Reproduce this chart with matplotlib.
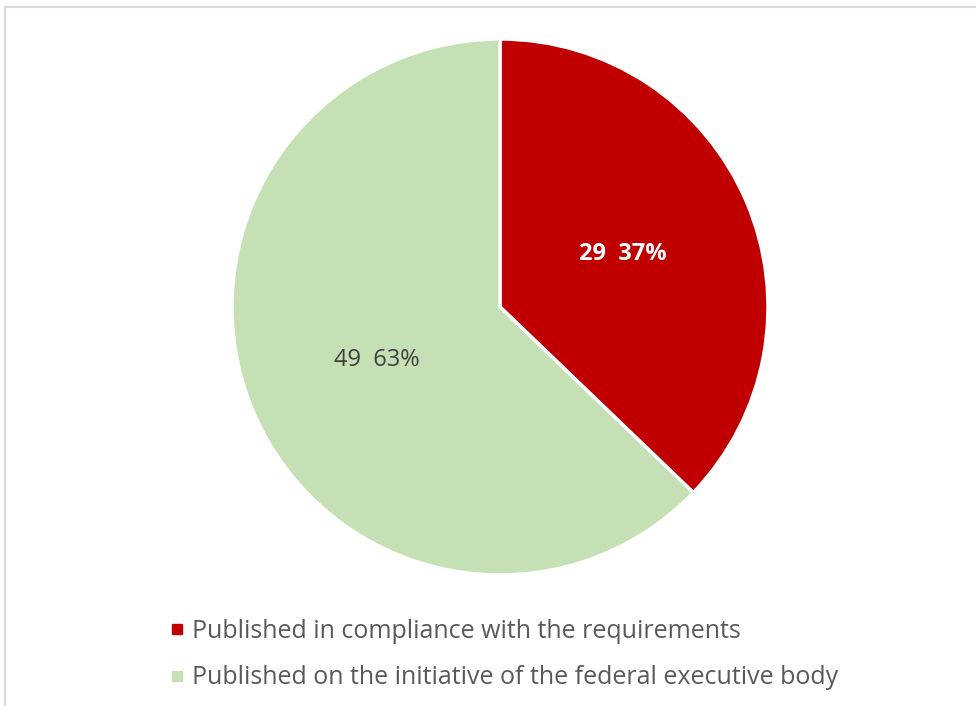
import matplotlib.pyplot as plt
from matplotlib.lines import Line2D
from matplotlib.patches import Rectangle

plt.rcParams['font.family'] = ['Open Sans', 'DejaVu Sans']

# data
categories = ["Published in compliance with the requirements",
              "Published on the initiative of the federal executive body"]
counts = [29, 49]
colors = ["#c00000", "#c5e0b4"]

fig = plt.figure(figsize=(9.76, 7.06), dpi=100)

# light gray frame (top and left edges visible)
fig.patches.append(Rectangle((5 / 976, -0.05), 1.2, 1 - 7 / 706 + 0.05,
                             transform=fig.transFigure, fill=False,
                             edgecolor="#d9d9d9", linewidth=1.6))

ax = fig.add_axes([232 / 976, 131 / 706, 536 / 976, 536 / 706])

total = sum(counts)


def make_label(pct):
    n = int(round(pct * total / 100))
    return f"{n}  {pct:.0f}%"


wedges, texts, autotexts = ax.pie(counts, colors=colors, startangle=90,
                                  counterclock=False, autopct=make_label,
                                  pctdistance=0.5,
                                  wedgeprops=dict(edgecolor="white", linewidth=2.5))
ax.set_xlim(-1, 1)
ax.set_ylim(-1, 1)
ax.set_aspect("equal")

autotexts[0].set_color("white")
autotexts[0].set_fontweight("bold")
autotexts[0].set_fontsize(17)
autotexts[1].set_color("#404040")
autotexts[1].set_fontsize(17)

# legend below the pie
handles = [Line2D([], [], marker="s", linestyle="", markersize=7.5,
                  markerfacecolor=c, markeredgecolor=c) for c in colors]
leg = fig.legend(handles, categories, loc="upper left",
                 bbox_to_anchor=(159 / 976, 1 - 609 / 706),
                 frameon=False, fontsize=18, handlelength=0.6,
                 handletextpad=0.3, labelspacing=0.85, borderaxespad=0)
for t in leg.get_texts():
    t.set_color("#595959")

plt.savefig("out.png", dpi=100, facecolor="white")
